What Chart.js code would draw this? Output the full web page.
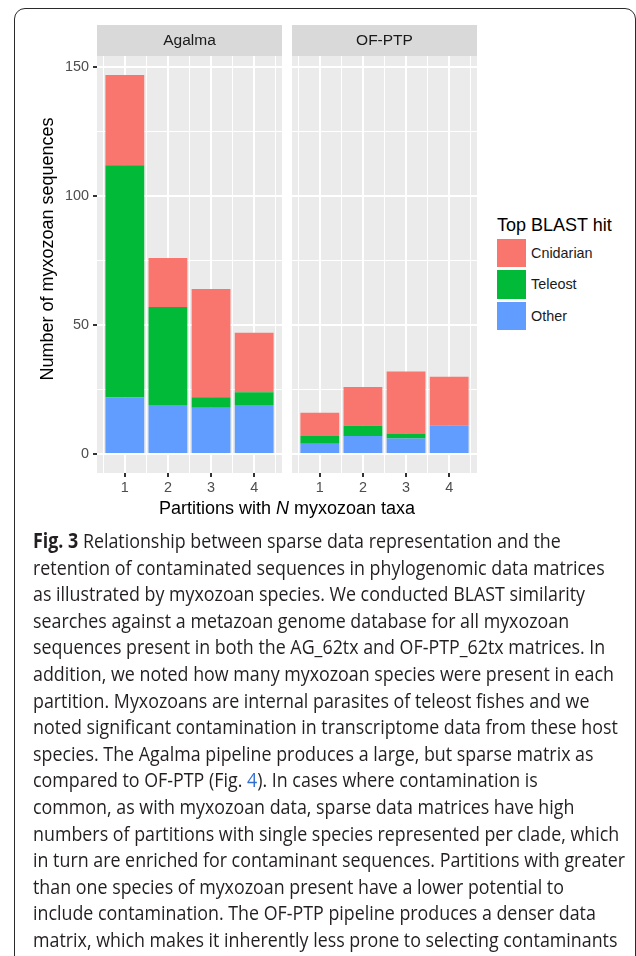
<!DOCTYPE html>
<html>
<head>
<meta charset="utf-8">
<script src="https://cdn.jsdelivr.net/npm/chart.js@4.4.1/dist/chart.umd.min.js"></script>
<style>
  body { margin:0; width:636px; height:956px; overflow:hidden; background:#fff; position:relative;
         font-family:"Liberation Sans", Arial, sans-serif; color:#000; }
  #frame { position:absolute; left:14px; top:8px; width:621.5px; height:1100px; box-sizing:border-box;
           border:1.5px solid #2a2a2a; border-radius:11px; }
  canvas { position:absolute; top:0; }
  #agalma { left:0; }
  #ofptp { left:292px; }
  .ytitle { position:absolute; left:-103px; top:239px; width:300px; height:20px; line-height:20px;
            text-align:center; font-size:18px; transform:rotate(-90deg); }
  .xtitle { position:absolute; left:87px; top:498px; width:400px; line-height:20px; text-align:center; font-size:18px; }
  .ltitle { position:absolute; left:497px; top:215px; line-height:20px; font-size:18px; }
  .lkey { position:absolute; left:497px; width:28.7px; height:28.3px; }
  .llab { position:absolute; left:531px; line-height:18px; font-size:14.4px; color:#1a1a1a; }
  #caption { position:absolute; left:33px; top:527px; font-family:"Open Sans", sans-serif; font-size:20.5px;
             line-height:26.6px; color:#231f20; transform-origin:0 0; white-space:nowrap; }
  #caption b { font-weight:700; }
  #caption a { color:#2f6fd0; text-decoration:none; }
</style>
</head>
<body>
<div id="frame"></div>
<canvas id="agalma" width="282" height="500"></canvas>
<canvas id="ofptp" width="185" height="500"></canvas>
<div class="ytitle">Number of myxozoan sequences</div>
<div class="xtitle">Partitions with <i>N</i> myxozoan taxa</div>
<div class="ltitle">Top BLAST hit</div>
<div id="legend"></div>
<div id="caption">
<div><span><b>Fig. 3</b> Relationship between sparse data representation and the</span></div>
<div><span>retention of contaminated sequences in phylogenomic data matrices</span></div>
<div><span>as illustrated by myxozoan species. We conducted BLAST similarity</span></div>
<div><span>searches against a metazoan genome database for all myxozoan</span></div>
<div><span>sequences present in both the AG_62tx and OF-PTP_62tx matrices. In</span></div>
<div><span>addition, we noted how many myxozoan species were present in each</span></div>
<div><span>partition. Myxozoans are internal parasites of teleost fishes and we</span></div>
<div><span>noted significant contamination in transcriptome data from these host</span></div>
<div><span>species. The Agalma pipeline produces a large, but sparse matrix as</span></div>
<div><span>compared to OF-PTP (Fig. <a>4</a>). In cases where contamination is</span></div>
<div><span>common, as with myxozoan data, sparse data matrices have high</span></div>
<div><span>numbers of partitions with single species represented per clade, which</span></div>
<div><span>in turn are enriched for contaminant sequences. Partitions with greater</span></div>
<div><span>than one species of myxozoan present have a lower potential to</span></div>
<div><span>include contamination. The OF-PTP pipeline produces a denser data</span></div>
<div><span>matrix, which makes it inherently less prone to selecting contaminants</span></div>
</div>
<script>
const partitions = [1, 2, 3, 4];
const hitTypes = ['Cnidarian', 'Teleost', 'Other'];
const hitColors = ['#F8766D', '#00BA38', '#619CFF'];

const agalmaCnidarian = [35, 19, 42, 23];
const agalmaTeleost = [90, 38, 4, 5];
const agalmaOther = [22, 19, 18, 19];

const ofptpCnidarian = [9, 15, 24, 19];
const ofptpTeleost = [3, 4, 2, 0];
const ofptpOther = [4, 7, 6, 11];

const yTicks = [0, 50, 100, 150];

// ggplot-like limits: bars are 0.9 wide, 5% expansion
const totals = partitions.map((p, i) => Math.max(
  agalmaCnidarian[i] + agalmaTeleost[i] + agalmaOther[i],
  ofptpCnidarian[i] + ofptpTeleost[i] + ofptpOther[i]));
const yTop = Math.max(...totals);
const yMin = -0.05 * yTop, yMax = 1.05 * yTop;
const xLo = partitions[0] - 0.45, xHi = partitions[partitions.length - 1] + 0.45;
const xMin = xLo - 0.05 * (xHi - xLo), xMax = xHi + 0.05 * (xHi - xLo);

// major + minor break positions
const xBreaks = [];
partitions.forEach(p => { xBreaks.push(p - 0.5, p); });
xBreaks.push(partitions[partitions.length - 1] + 0.5);
const yBreaks = [];
yTicks.forEach((t, i) => { yBreaks.push(t); if (i < yTicks.length - 1) yBreaks.push((t + yTicks[i + 1]) / 2); });

const isMajorX = v => partitions.includes(v);
const isMajorY = v => yTicks.includes(v);
const tickVal = c => (c && c.tick) ? c.tick.value : NaN;

const stripPlugin = {
  id: 'strip',
  beforeDraw(chart, args, opts) {
    const { ctx, chartArea: a } = chart;
    ctx.save();
    ctx.fillStyle = '#EBEBEB';
    ctx.fillRect(a.left, a.top, a.right - a.left, a.bottom - a.top);
    ctx.fillStyle = '#D9D9D9';
    ctx.fillRect(a.left, a.top - 31, a.right - a.left, 31);
    ctx.fillStyle = '#1A1A1A';
    ctx.font = '15.5px "Liberation Sans"';
    ctx.textAlign = 'center';
    ctx.textBaseline = 'middle';
    ctx.fillText(opts.text, (a.left + a.right) / 2, a.top - 15.5);
    ctx.restore();
  }
};

function stackSets(cnid, tele, other) {
  const vals = [cnid, tele, other];
  // Chart.js stacks the first dataset at the bottom, so reverse
  return vals.map((v, i) => ({
    label: hitTypes[i],
    data: partitions.map((p, j) => ({ x: p, y: v[j] })),
    backgroundColor: hitColors[i],
    borderWidth: 0,
    categoryPercentage: 1,
    barPercentage: 1.8   // ruler min is the 0.5 minor break gap, so 1.8 -> 0.9 of a unit
  })).reverse();
}

const tickFont = { family: 'Liberation Sans', size: 14.4 };

function facet(id, title, sets, showY) {
  return new Chart(document.getElementById(id), {
    type: 'bar',
    data: { datasets: sets },
    options: {
      responsive: false,
      animation: false,
      layout: { padding: { top: 56, left: 0, right: 0, bottom: 0 } },
      plugins: { legend: { display: false }, tooltip: { enabled: false }, strip: { text: title } },
      scales: {
        x: {
          type: 'linear', stacked: true, min: xMin, max: xMax, offset: false,
          afterBuildTicks: s => { s.ticks = xBreaks.map(v => ({ value: v })); },
          afterFit: s => { s.height = 27; },
          border: { display: false },
          grid: {
            offset: false,
            color: '#ffffff',
            lineWidth: c => isMajorX(tickVal(c)) ? 2 : 1,
            tickColor: c => isMajorX(tickVal(c)) ? '#333333' : 'rgba(0,0,0,0)',
            tickLength: 4
          },
          ticks: {
            autoSkip: false, maxRotation: 0, padding: 2,
            color: '#4D4D4D', font: tickFont,
            callback: v => isMajorX(v) ? String(v) : ''
          }
        },
        y: {
          stacked: true, min: yMin, max: yMax,
          afterBuildTicks: s => { s.ticks = yBreaks.map(v => ({ value: v })); },
          afterFit: s => { s.width = showY ? 97 : 0; },
          border: { display: false },
          grid: {
            color: '#ffffff',
            lineWidth: c => isMajorY(tickVal(c)) ? 2 : 1,
            tickColor: c => isMajorY(tickVal(c)) ? '#333333' : 'rgba(0,0,0,0)',
            tickLength: 4,
            drawTicks: showY
          },
          ticks: {
            display: showY, autoSkip: false, padding: 4,
            color: '#4D4D4D', font: tickFont,
            callback: v => isMajorY(v) ? String(v) : ''
          }
        }
      }
    },
    plugins: [stripPlugin]
  });
}

facet('agalma', 'Agalma', stackSets(agalmaCnidarian, agalmaTeleost, agalmaOther), true);
facet('ofptp', 'OF-PTP', stackSets(ofptpCnidarian, ofptpTeleost, ofptpOther), false);

// legend
const legend = document.getElementById('legend');
hitTypes.forEach((name, i) => {
  const top = 239 + i * 31.3;
  const key = document.createElement('div');
  key.className = 'lkey';
  key.style.top = top + 'px';
  key.style.background = hitColors[i];
  legend.appendChild(key);
  const lab = document.createElement('div');
  lab.className = 'llab';
  lab.style.top = (top + 5) + 'px';
  lab.textContent = name;
  legend.appendChild(lab);
});

// squeeze caption to the narrow typeface width of the original
const cap = document.getElementById('caption');
let widest = 0;
cap.querySelectorAll('span').forEach(s => { widest = Math.max(widest, s.getBoundingClientRect().width); });
cap.style.transform = 'scaleX(' + (592 / widest) + ')';
</script>
</body>
</html>
